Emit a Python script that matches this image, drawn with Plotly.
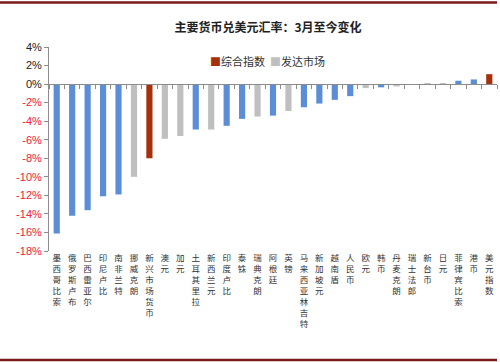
import plotly.graph_objects as go

categories = ["墨西哥比索", "俄罗斯卢布", "巴西雷亚尔", "印尼卢比", "南非兰特", "挪威克朗",
              "新兴市场货币", "澳元", "加元", "土耳其里拉", "新西兰元", "印度卢比", "泰铢",
              "瑞典克朗", "阿根廷", "英镑", "马来西亚林吉特", "新加坡元", "越南盾", "人民币",
              "欧元", "韩币", "丹麦克朗", "瑞士法郎", "新台币", "日元", "菲律宾比索", "港币", "美元指数"]
values = [-16.1, -14.2, -13.6, -12.1, -11.9, -10.0,
          -8.0, -5.9, -5.6, -4.9, -4.9, -4.5, -3.75,
          -3.5, -3.4, -2.9, -2.5, -2.1, -1.7, -1.3,
          -0.43, -0.35, -0.25, -0.05, 0.1, 0.1, 0.36, 0.5, 1.07]
groups = ["em", "em", "em", "em", "em", "dev",
          "idx", "dev", "dev", "em", "dev", "em", "em",
          "dev", "em", "dev", "em", "em", "em", "em",
          "dev", "em", "dev", "dev", "dev", "dev", "em", "em", "idx"]
group_names = {"idx": "综合指数", "dev": "发达市场", "em": "新兴市场"}
group_colors = {"idx": "#A5300C", "dev": "#BFBFBF", "em": "#5B8ED6"}
yticks = [4, 2, 0, -2, -4, -6, -8, -10, -12, -14, -16, -18]

fig = go.Figure()
for g in ["idx", "dev", "em"]:
    xs = [c for c, gg in zip(categories, groups) if gg == g]
    ys = [v for v, gg in zip(values, groups) if gg == g]
    fig.add_trace(go.Bar(x=xs, y=ys, name=group_names[g], marker_color=group_colors[g],
                         marker_line_width=0, width=0.4, showlegend=False))

# invisible trace for the zero-line axis
fig.add_trace(go.Scatter(x=categories, y=[0] * len(categories), xaxis="x2", mode="markers",
                         marker=dict(opacity=0), showlegend=False, hoverinfo="skip"))

ticktext = []
for t in yticks:
    s = f"{t}%"
    if t < 0:
        ticktext.append(f"<span style='color:#F0203C'>{s}</span>")
    else:
        ticktext.append(s)

legend_text = (f"<span style='color:{group_colors['idx']}'>■</span>{group_names['idx']}&nbsp;&nbsp;"
               f"<span style='color:{group_colors['dev']}'>■</span>{group_names['dev']}")

fig.update_layout(
    width=500, height=362,
    margin=dict(l=49, r=3, t=47, b=111, autoexpand=False),
    paper_bgcolor="white", plot_bgcolor="white",
    barmode="overlay",
    showlegend=False,
    font=dict(family="Noto Sans CJK SC", color="#333333"),
    title=dict(text="<b>主要货币兑美元汇率：3月至今变化</b>", x=268 / 500, xanchor="center",
               y=1 - 28 / 362, yanchor="middle", font=dict(size=12, color="#222222")),
    annotations=[dict(text=legend_text, xref="paper", yref="paper",
                      x=(208 - 49) / 448, y=1 - (61 - 47) / 204, xanchor="left", yanchor="middle",
                      showarrow=False, font=dict(size=11, color="#333333"))],
    xaxis=dict(type="category", categoryorder="array", categoryarray=categories,
               range=[-0.5, len(categories) - 0.5],
               tickvals=categories,
               ticktext=["<br>".join(list(c)) for c in categories],
               tickangle=0, showline=False, ticks="", showgrid=False, automargin=False,
               tickfont=dict(size=8.5, color="#333333", family="Noto Sans CJK SC")),
    xaxis2=dict(type="category", categoryorder="array", categoryarray=categories,
                range=[-0.5, len(categories) - 0.5], overlaying="x", anchor="free",
                position=18 / 22, showline=True, linecolor="#8C8C8C", linewidth=1,
                ticks="outside", ticklen=4, tickcolor="#8C8C8C", tickson="boundaries",
                showticklabels=False, showgrid=False),
    yaxis=dict(range=[-18, 4], tickvals=yticks, ticktext=ticktext, automargin=False,
               showline=True, linecolor="#8C8C8C", linewidth=1, ticks="outside", ticklen=4,
               tickcolor="#8C8C8C", showgrid=False, zeroline=False,
               tickfont=dict(size=11, family="Liberation Sans", color="#222222")),
    shapes=[
        dict(type="line", xref="paper", yref="paper", x0=-49 / 448, x1=1.0,
             y0=1 + (47 - 2.5) / 204, y1=1 + (47 - 2.5) / 204, line=dict(color="#7A1A1A", width=2.5)),
        dict(type="line", xref="paper", yref="paper", x0=-49 / 448, x1=1.0,
             y0=-(360 - 251) / 204, y1=-(360 - 251) / 204, line=dict(color="#7A1A1A", width=2.5)),
    ],
)

fig.write_html("out.html", config={"displayModeBar": False},
               post_script="document.body.style.margin='0';")
